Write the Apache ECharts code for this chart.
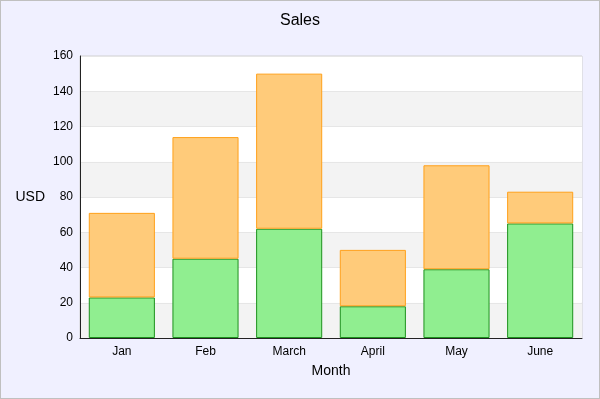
<!DOCTYPE html>
<html>
<head>
    <meta charset="UTF-8">
    <title>Sales</title>
    <script src="https://cdn.jsdelivr.net/npm/echarts@6/dist/echarts.min.js"></script>
    <style>
        html, body { margin: 0; padding: 0; width: 100%; height: 100%; }
        #main { width: 600px; height: 399px; box-sizing: border-box; border: 1px solid #c0c0c0; }
    </style>
</head>
<body>
    <div id="main"></div>
    <script type="text/javascript">
        var months = ['Jan', 'Feb', 'March', 'April', 'May', 'June'];
        var lowerValues = [23, 45, 62, 18, 39, 65];
        var upperValues = [48, 69, 88, 32, 59, 18];
        var yTicks = [0, 20, 40, 60, 80, 100, 120, 140, 160];

        var myChart = echarts.init(document.getElementById('main'));
        var font = 'Liberation Sans, Arial, sans-serif';

        var option = {
            backgroundColor: '#f0f0ff',
            animation: false,
            textStyle: { fontFamily: font },
            title: {
                text: 'Sales',
                left: 'center',
                top: 7,
                textStyle: { fontSize: 16, fontWeight: 'normal', color: '#000', fontFamily: font }
            },
            grid: {
                left: 79,
                right: 17,
                top: 55,
                bottom: 60,
                outerBoundsMode: 'none',
                containLabel: false,
                show: true,
                backgroundColor: '#fff',
                borderColor: '#d0d0d0',
                borderWidth: 1
            },
            xAxis: {
                type: 'category',
                data: months,
                name: 'Month',
                nameLocation: 'middle',
                nameGap: 26,
                nameTextStyle: { fontSize: 14, color: '#000' },
                axisLine: { lineStyle: { color: '#222', width: 1 } },
                axisTick: { show: false },
                axisLabel: { color: '#000', fontSize: 12, margin: 8 }
            },
            yAxis: {
                type: 'value',
                min: yTicks[0],
                max: yTicks[yTicks.length - 1],
                interval: 20,
                name: 'USD',
                nameLocation: 'middle',
                nameRotate: 0,
                nameGap: 35,
                nameTextStyle: { fontSize: 14, color: '#000', padding: [2, 0, 0, 0] },
                axisLine: { show: true, lineStyle: { color: '#222', width: 1 } },
                axisTick: { show: false },
                axisLabel: { color: '#000', fontSize: 12, margin: 7 },
                splitLine: { show: true, lineStyle: { color: '#e6e6e6' } },
                splitArea: { show: true, areaStyle: { color: ['#f3f3f3', '#ffffff'] } }
            },
            series: [
                {
                    name: 'Lower',
                    type: 'bar',
                    stack: 'total',
                    barCategoryGap: '21%',
                    data: lowerValues,
                    itemStyle: { color: '#90ee90', borderColor: '#1d911d', borderWidth: 1 }
                },
                {
                    name: 'Upper',
                    type: 'bar',
                    stack: 'total',
                    barCategoryGap: '21%',
                    data: upperValues,
                    itemStyle: { color: '#ffcb7a', borderColor: '#ffa01a', borderWidth: 1 }
                }
            ]
        };

        myChart.setOption(option);
    </script>
</body>
</html>
